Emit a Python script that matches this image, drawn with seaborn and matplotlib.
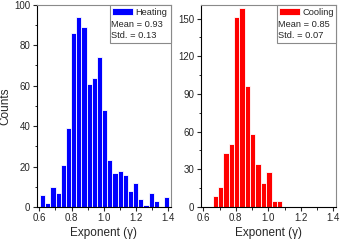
import matplotlib
matplotlib.use("Agg")
import matplotlib.pyplot as plt
from matplotlib.patches import Rectangle
from matplotlib.ticker import MultipleLocator
import seaborn as sns
import numpy as np
import pandas as pd

# histogram counts
heating_counts = [6, 2, 10, 7, 21, 39, 86, 94, 89, 61, 64, 74, 48,
                  23, 17, 18, 16, 8, 12, 4, 1, 7, 3, 0, 5]
heating_start = 0.605
heating_width = 0.032

cooling_counts = [9, 16, 43, 50, 151, 158, 96, 58, 34, 19, 28, 5, 5]
cooling_start = 0.657
cooling_width = 0.033

heating_stats = ["Mean = 0.93", "Std. = 0.13"]
cooling_stats = ["Mean = 0.85", "Std. = 0.07"]

sns.set_style("ticks")
plt.rcParams["font.family"] = ["Liberation Sans", "DejaVu Sans"]
plt.rcParams["xtick.major.size"] = 3
plt.rcParams["ytick.major.size"] = 3
plt.rcParams["xtick.minor.size"] = 1.8
plt.rcParams["ytick.minor.size"] = 1.8
plt.rcParams["xtick.major.pad"] = 1.5
plt.rcParams["ytick.major.pad"] = 1.5

fig = plt.figure(figsize=(3.43, 2.4), dpi=100)
ax1 = fig.add_axes([0.107, 0.1375, 0.391, 0.843])
ax2 = fig.add_axes([0.585, 0.1375, 0.394, 0.843])


def draw_panel(ax, counts, start, width, color, name, stats, ylim, ystep, leg_x, txt_x, box_x):
    edges = [start + width * i for i in range(len(counts) + 1)]
    df = pd.DataFrame({"x": [e + width / 2 for e in edges[:-1]], "w": counts})
    sns.histplot(data=df, x="x", weights="w", bins=edges, ax=ax, color=color,
                 alpha=1, edgecolor="white", linewidth=0.6, label=name)
    ax.set_xlim(0.584, 1.415)
    ax.set_ylim(*ylim)
    ax.xaxis.set_major_locator(MultipleLocator(0.2))
    ax.xaxis.set_minor_locator(MultipleLocator(0.1))
    ax.yaxis.set_major_locator(MultipleLocator(ystep))
    ax.yaxis.set_minor_locator(MultipleLocator(ystep / 2))
    ax.set_xticks(np.arange(0.6, 1.41, 0.2))
    ax.set_xticklabels(["0.6", "0.8", "1.0", "1.2", "1.4"])
    ax.tick_params(labelsize=7, width=0.8)
    ax.tick_params(which="minor", width=0.7)
    ax.set_xlabel("Exponent (\u03b3)", fontsize=8.5, labelpad=3)
    ax.set_ylabel("")
    for s in ["top", "right"]:
        ax.spines[s].set_visible(True)
        ax.spines[s].set_color("#8a8a8a")
        ax.spines[s].set_linewidth(0.8)
    for s in ["left", "bottom"]:
        ax.spines[s].set_color("black")
        ax.spines[s].set_linewidth(0.8)

    # legend box: colour swatch + stats lines
    ax.add_patch(Rectangle((box_x, 0.811), 1 - box_x, 0.189, transform=ax.transAxes,
                           facecolor="white", edgecolor="#8a8a8a", linewidth=0.8,
                           zorder=5, clip_on=False))
    leg = ax.legend(loc="upper left", bbox_to_anchor=(leg_x, 0.985), frameon=False,
                    fontsize=6.7, handlelength=2.2, handleheight=0.72,
                    handletextpad=0.25, borderpad=0, borderaxespad=0)
    leg.set_zorder(6)
    ax.text(txt_x, 0.900, stats[0], transform=ax.transAxes, fontsize=6.7,
            va="center", ha="left", zorder=6)
    ax.text(txt_x, 0.850, stats[1], transform=ax.transAxes, fontsize=6.7,
            va="center", ha="left", zorder=6)


draw_panel(ax1, heating_counts, heating_start, heating_width, "blue", "Heating",
           heating_stats, (0, 100), 20, 0.562, 0.554, 0.547)
draw_panel(ax2, cooling_counts, cooling_start, cooling_width, "red", "Cooling",
           cooling_stats, (0, 161), 30, 0.582, 0.575, 0.567)

ax1.set_ylabel("Counts", fontsize=8.5, labelpad=2)

fig.savefig("out.png", dpi=100)
